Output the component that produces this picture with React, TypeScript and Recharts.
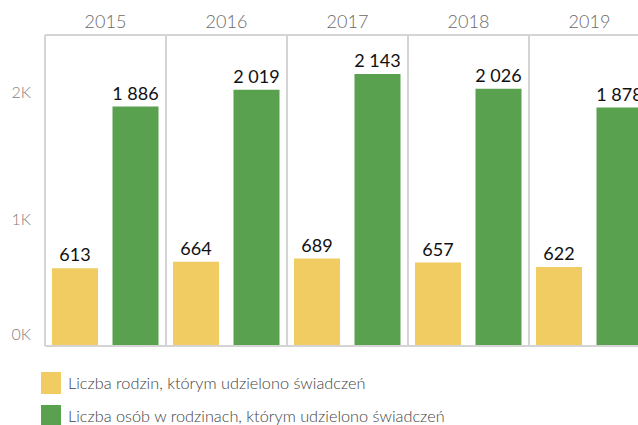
import React from 'react';
import { BarChart, Bar, XAxis, YAxis, ReferenceLine, LabelList, Legend } from 'recharts';

const years = ['2015', '2016', '2017', '2018', '2019'];
const families = [613, 664, 689, 657, 622];
const persons = [1886, 2019, 2143, 2026, 1878];
const yTicks = [0, 1000, 2000];

const seriesOrder = ['families', 'persons'];
const seriesNames = {
  families: 'Liczba rodzin, którym udzielono świadczeń',
  persons: 'Liczba osób w rodzinach, którym udzielono świadczeń',
};

const rows = years.map((year, i) => ({ year, families: families[i], persons: persons[i] }));

const FONT = 'Lato, "Open Sans", sans-serif';
const YELLOW = '#F0CC63';
const GREEN = '#59A14F';
const RULE = '#d4d4d4';

const fmt = (v: number) => String(v).replace(/\B(?=(\d{3})+(?!\d))/g, ' ');

function YTick({ x, y, payload }: any) {
  // Tableau nudges the bottom label up so it stays inside the pane
  const dy = payload.value === 0 ? -6 : 6;
  return (
    <text x={x} y={y + dy} textAnchor="end" fill="#808080" fontSize={16} fontWeight={300} fontFamily={FONT}>
      {payload.value / 1000}K
    </text>
  );
}

function LegendBox({ payload }: any) {
  const items = [...(payload || [])].sort(
    (a: any, b: any) => seriesOrder.indexOf(a.dataKey) - seriesOrder.indexOf(b.dataKey)
  );
  return (
    <div style={{ fontFamily: FONT }}>
      {items.map((p: any) => (
        <div key={p.value} style={{ display: 'flex', alignItems: 'center', height: 33 }}>
          <span style={{ width: 20, height: 22, background: p.color, display: 'inline-block', marginRight: 7 }} />
          <span style={{ fontSize: 16.3, fontWeight: 300, color: '#444' }}>{p.value}</span>
        </div>
      ))}
    </div>
  );
}

export default function App() {
  return (
    <div style={{ position: 'fixed', left: 0, top: 0, width: 638, height: 425, overflow: 'hidden', background: '#fff' }}>
      <BarChart
        width={650}
        height={425}
        data={rows}
        margin={{ top: 0, right: 0, bottom: 79, left: 0 }}
        barSize={46}
        barGap={14.5}
      >
        <XAxis
          xAxisId="year"
          dataKey="year"
          orientation="top"
          height={35}
          tickSize={0}
          tickMargin={7}
          axisLine={{ stroke: RULE, strokeWidth: 2 }}
          tick={{ fill: '#6a6a6a', fontSize: 18, fontWeight: 300, fontFamily: FONT }}
        />
        <YAxis
          domain={[0, 2450]}
          ticks={yTicks}
          width={45}
          tickSize={0}
          tickMargin={14}
          axisLine={false}
          tick={<YTick />}
        />
        {/* panel dividers on the band edges of each year */}
        {years.map((y) => (
          <ReferenceLine key={y} xAxisId="year" x={y} position="start" stroke={RULE} strokeWidth={2} />
        ))}
        <ReferenceLine
          xAxisId="year"
          x={years[years.length - 1]}
          position="end"
          stroke={RULE}
          strokeWidth={2}
        />
        <ReferenceLine xAxisId="year" y={0} stroke={RULE} strokeWidth={2} />
        <Bar xAxisId="year" dataKey="families" name={seriesNames.families} fill={YELLOW} isAnimationActive={false}>
          <LabelList dataKey="families" position="top" offset={7} formatter={fmt} fill="#111" fontSize={18} fontFamily={FONT} />
        </Bar>
        <Bar xAxisId="year" dataKey="persons" name={seriesNames.persons} fill={GREEN} isAnimationActive={false}>
          <LabelList dataKey="persons" position="top" offset={7} formatter={fmt} fill="#111" fontSize={18} fontFamily={FONT} />
        </Bar>
        <Legend
          layout="vertical"
          align="center"
          verticalAlign="middle"
          content={<LegendBox />}
          wrapperStyle={{ left: 41, top: 366, width: 'auto', height: 'auto' }}
        />
      </BarChart>
    </div>
  );
}
